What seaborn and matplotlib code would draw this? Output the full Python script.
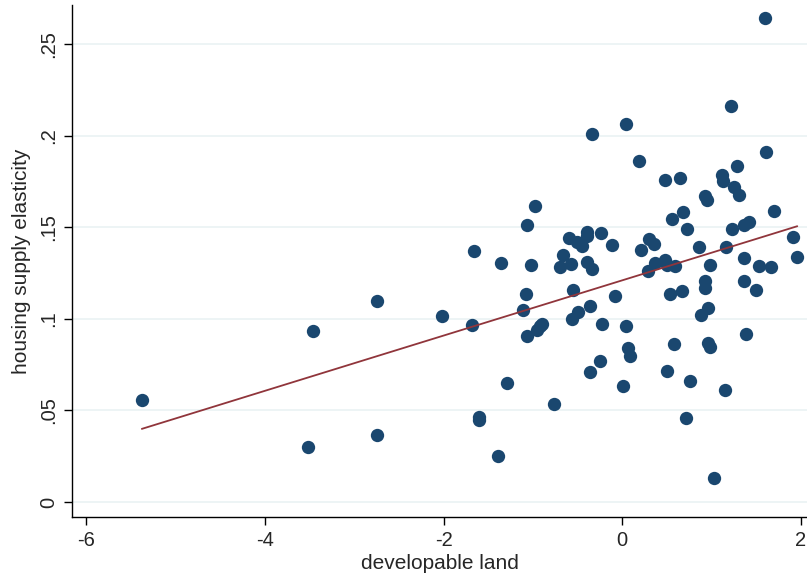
import pandas as pd
import seaborn as sns
import matplotlib.pyplot as plt

# developable land (x) vs housing supply elasticity (y)
land = [-5.378, -3.518, -3.462, -2.745, -2.745, -2.020, -1.662, -1.677, -1.599, -1.602,
        -1.389, -1.352, -1.292, -1.064, -1.079, -1.106, -1.061, -1.016, -0.975, -0.956,
        -0.919, -0.896, -0.765, -0.691, -0.661, -0.597, -0.552, -0.571, -0.560, -0.496,
        -0.508, -0.452, -0.392, -0.396, -0.392, -0.359, -0.355, -0.333, -0.339, -0.246,
        -0.227, -0.232, -0.112, -0.078, 0.008, 0.039, 0.045, 0.067, 0.092, 0.185,
        0.213, 0.295, 0.306, 0.359, 0.373, 0.485, 0.501, 0.482, 0.504, 0.538,
        0.557, 0.579, 0.594, 0.650, 0.669, 0.687, 0.725, 0.720, 0.762, 0.866,
        0.885, 0.930, 0.930, 0.930, 0.949, 0.960, 0.967, 0.986, 0.986, 1.027,
        1.113, 1.124, 1.165, 1.157, 1.221, 1.229, 1.258, 1.285, 1.308, 1.364,
        1.370, 1.370, 1.386, 1.415, 1.494, 1.527, 1.602, 1.613, 1.669, 1.703,
        1.913, 1.961]
elasticity = [0.0559, 0.0301, 0.0936, 0.1100, 0.0367, 0.1015, 0.1373, 0.0969, 0.0464, 0.0449,
              0.0252, 0.1305, 0.0652, 0.1515, 0.1134, 0.1051, 0.0909, 0.1296, 0.1616, 0.0938,
              0.0960, 0.0971, 0.0535, 0.1285, 0.1349, 0.1440, 0.1157, 0.1302, 0.1001, 0.1037,
              0.1420, 0.1397, 0.1453, 0.1472, 0.1313, 0.0708, 0.1072, 0.1272, 0.2010, 0.0768,
              0.0973, 0.1468, 0.1404, 0.1124, 0.0631, 0.0963, 0.2066, 0.0839, 0.0796, 0.1864,
              0.1375, 0.1260, 0.1439, 0.1411, 0.1303, 0.1321, 0.1294, 0.1758, 0.0714, 0.1134,
              0.1546, 0.0865, 0.1291, 0.1769, 0.1153, 0.1584, 0.1490, 0.0458, 0.0659, 0.1395,
              0.1019, 0.1170, 0.1206, 0.1669, 0.1650, 0.1059, 0.0869, 0.0847, 0.1294, 0.0130,
              0.1785, 0.1752, 0.1393, 0.0613, 0.2162, 0.1490, 0.1720, 0.1833, 0.1676, 0.1335,
              0.1205, 0.1512, 0.0920, 0.1532, 0.1156, 0.1289, 0.2645, 0.1910, 0.1283, 0.1588,
              0.1447, 0.1340]

xticks = [-6, -4, -2, 0, 2]
yticks = [0, 0.05, 0.1, 0.15, 0.2, 0.25]
ytick_labels = ['0', '.05', '.1', '.15', '.2', '.25']

df = pd.DataFrame({'land': land, 'elasticity': elasticity})

sns.set_style('white')
plt.rcParams['font.family'] = ['Liberation Sans', 'DejaVu Sans']

fig = plt.figure(figsize=(8.07, 5.78), dpi=100)
ax = fig.add_axes([0.0892, 0.1055, 0.9108, 0.8860])

ax.set_axisbelow(True)
ax.grid(axis='y', color='#eaf2f3', linewidth=1.2)
ax.grid(axis='x', visible=False)

sns.regplot(data=df, x='land', y='elasticity', ci=None, ax=ax,
            scatter_kws={'s': 92, 'color': '#1a476f', 'alpha': 1, 'linewidths': 0},
            line_kws={'color': '#90353b', 'linewidth': 1.3})

ax.set_xlim(-6.16, 2.07)
ax.set_ylim(-0.0082, 0.2715)
ax.set_xticks(xticks)
ax.set_xticklabels([str(t) for t in xticks])
ax.set_yticks(yticks)
ax.set_yticklabels(ytick_labels, rotation=90, va='center')
ax.tick_params(axis='both', direction='out', length=6, width=1, color='black',
               labelsize=14.5, pad=4, left=True, bottom=True)

for side in ['top', 'right']:
    ax.spines[side].set_visible(False)
for side in ['left', 'bottom']:
    ax.spines[side].set_color('black')
    ax.spines[side].set_linewidth(1)

ax.set_xlabel('developable land', fontsize=15, labelpad=3)
ax.set_ylabel('housing supply elasticity', fontsize=15, labelpad=6)

fig.savefig('out.png', dpi=100)
